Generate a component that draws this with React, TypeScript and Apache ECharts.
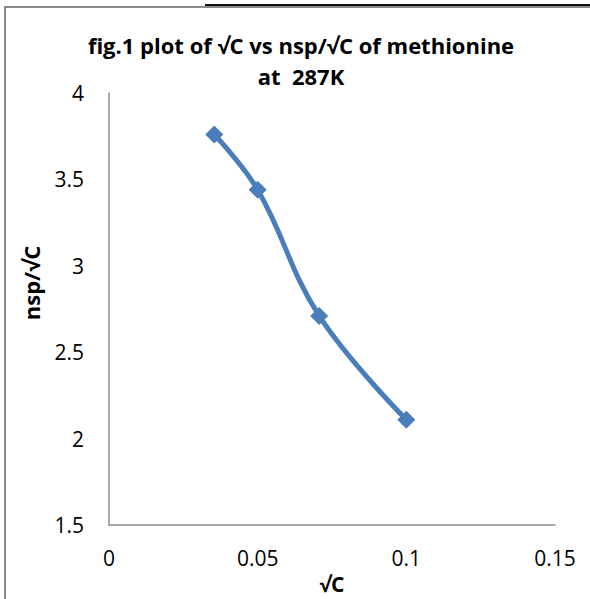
import React, { useEffect, useRef } from "react";
import * as echarts from "echarts";

const sqrtC = [0.0354, 0.05, 0.0707, 0.1];
const nspOverSqrtC = [3.76, 3.44, 2.71, 2.11];
const titleLine1 = "fig.1 plot of √C vs nsp/√C of methionine";
const titleLine2 = "at  287K";
const xAxisTitle = "√C";
const yAxisTitle = "nsp/√C";

const FONT = "'Open Sans', 'DejaVu Sans', sans-serif";

export default function App() {
  const ref = useRef<HTMLDivElement>(null);
  useEffect(() => {
    document.body.style.margin = "0";
    if (!ref.current) return;
    const chart = echarts.init(ref.current, undefined, { renderer: "svg" });
    chart.setOption({
      animation: false,
      backgroundColor: "#ffffff",
      grid: { left: 109, top: 93, right: 35, bottom: 70, containLabel: false },
      xAxis: {
        type: "value",
        min: 0,
        max: 0.15,
        interval: 0.05,
        name: xAxisTitle,
        nameLocation: "middle",
        nameGap: 43,
        nameTextStyle: { fontFamily: FONT, fontSize: 21, fontWeight: "bold", color: "#000" },
        axisLine: { show: true, lineStyle: { color: "#8c8c8c", width: 1.5 } },
        axisTick: { show: false },
        splitLine: { show: false },
        axisLabel: { fontFamily: FONT, fontSize: 21, color: "#000", margin: 22 },
      },
      yAxis: {
        type: "value",
        min: 1.5,
        max: 4,
        interval: 0.5,
        axisLine: { show: true, lineStyle: { color: "#8c8c8c", width: 1.5 } },
        axisTick: { show: false },
        splitLine: { show: false },
        axisLabel: { fontFamily: FONT, fontSize: 21, color: "#000", margin: 25 },
      },
      series: [
        {
          type: "line",
          data: sqrtC.map((x, i) => [x, nspOverSqrtC[i]]),
          smooth: 0.4,
          symbol: "diamond",
          symbolSize: 18,
          lineStyle: { color: "#4a7ebb", width: 5 },
          itemStyle: { color: "#4a7ebb" },
        },
      ],
      graphic: [
        { type: "rect", shape: { x: 4, y: 6, width: 586, height: 2 }, style: { fill: "#8a8a8a" }, silent: true },
        { type: "rect", shape: { x: 4, y: 6, width: 2, height: 593 }, style: { fill: "#8a8a8a" }, silent: true },
        { type: "rect", shape: { x: 205, y: 4, width: 385, height: 2 }, style: { fill: "#111111" }, silent: true },
        {
          type: "text",
          x: 301,
          y: 45,
          style: { text: titleLine1, fontFamily: FONT, fontSize: 22, fontWeight: "bold", fill: "#000", align: "center", verticalAlign: "middle" },
        },
        {
          type: "text",
          x: 301,
          y: 76,
          style: { text: titleLine2, fontFamily: FONT, fontSize: 22, fontWeight: "bold", fill: "#000", align: "center", verticalAlign: "middle" },
        },
        {
          type: "text",
          x: 31,
          y: 283,
          rotation: Math.PI / 2,
          style: { text: yAxisTitle, fontFamily: FONT, fontSize: 22, fontWeight: "bold", fill: "#000", align: "center", verticalAlign: "middle" },
        },
      ],
    });
    return () => chart.dispose();
  }, []);
  return <div ref={ref} style={{ width: 590, height: 599 }} />;
}
